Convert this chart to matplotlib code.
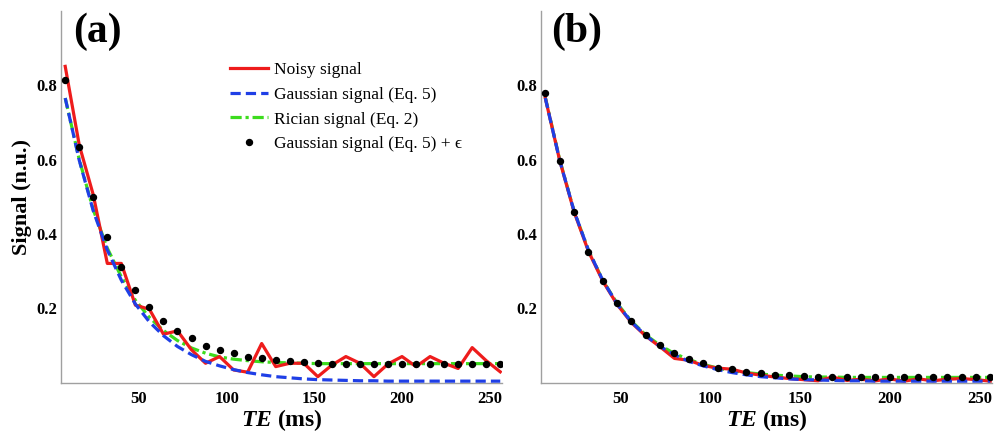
"""
plot.py

Noisy vs Gaussian vs Rician decay signal, two panels.
"""
import matplotlib
matplotlib.use("Agg")
import matplotlib.pyplot as plt
import numpy as np

# echo times (ms)
te = np.arange(8, 257, 8)

# panel (a): high noise
noisy_a = [0.850, 0.639, 0.505, 0.321, 0.321, 0.209, 0.198, 0.131, 0.140, 0.089,
           0.053, 0.071, 0.035, 0.029, 0.106, 0.044, 0.053, 0.053, 0.017, 0.048,
           0.071, 0.053, 0.017, 0.051, 0.071, 0.044, 0.071, 0.053, 0.039, 0.095,
           0.060, 0.030]
gauss_a = [0.765, 0.598, 0.462, 0.357, 0.276, 0.212, 0.164, 0.127, 0.098, 0.076,
           0.058, 0.046, 0.036, 0.028, 0.022, 0.017, 0.014, 0.011, 0.009, 0.008,
           0.007, 0.006, 0.006, 0.005, 0.005, 0.005, 0.005, 0.005, 0.005, 0.005,
           0.005, 0.005]
rician_a = [0.765, 0.600, 0.465, 0.362, 0.285, 0.222, 0.176, 0.141, 0.114, 0.094,
            0.080, 0.070, 0.064, 0.060, 0.057, 0.055, 0.054, 0.053, 0.052, 0.052,
            0.052, 0.052, 0.052, 0.052, 0.052, 0.052, 0.052, 0.052, 0.052, 0.052,
            0.052, 0.052]
dots_a = [0.813, 0.634, 0.498, 0.393, 0.311, 0.250, 0.203, 0.166, 0.140, 0.120,
          0.100, 0.089, 0.080, 0.071, 0.066, 0.062, 0.059, 0.057, 0.053, 0.051,
          0.051, 0.051, 0.051, 0.051, 0.051, 0.051, 0.051, 0.051, 0.051, 0.051,
          0.051, 0.051]

# panel (b): low noise
noisy_b = [0.765, 0.598, 0.460, 0.354, 0.274, 0.211, 0.162, 0.126, 0.097, 0.066,
           0.061, 0.047, 0.040, 0.037, 0.027, 0.021, 0.016, 0.012, 0.009, 0.006,
           0.016, 0.007, 0.010, 0.006, 0.011, 0.005, 0.011, 0.006, 0.010, 0.012,
           0.009, 0.005]
gauss_b = gauss_a
rician_b = [0.767, 0.600, 0.462, 0.357, 0.276, 0.214, 0.166, 0.129, 0.101, 0.079,
            0.063, 0.050, 0.040, 0.033, 0.028, 0.024, 0.021, 0.019, 0.017, 0.016,
            0.016, 0.015, 0.015, 0.015, 0.015, 0.015, 0.015, 0.015, 0.015, 0.015,
            0.015, 0.015]
dots_b = [0.778, 0.596, 0.458, 0.352, 0.274, 0.214, 0.167, 0.129, 0.102, 0.081,
          0.065, 0.055, 0.041, 0.037, 0.030, 0.028, 0.021, 0.021, 0.019, 0.017,
          0.015, 0.015, 0.015, 0.015, 0.015, 0.015, 0.015, 0.015, 0.015, 0.015,
          0.015, 0.015]

xticks = [50, 100, 150, 200, 250]
yticks = [0.2, 0.4, 0.6, 0.8]

plt.rcParams['font.family'] = ['Liberation Serif', 'DejaVu Serif']
plt.rcParams['mathtext.fontset'] = 'custom'
plt.rcParams['mathtext.it'] = 'Liberation Serif:italic:bold'
plt.rcParams['mathtext.rm'] = 'Liberation Serif:bold'

W, H = 998, 437
fig = plt.figure(figsize=(W / 100, H / 100), dpi=100)

RED = '#ee1c1c'
BLUE = '#1f3fe6'
GREEN = '#3ddc1e'


def make_axes(left_px, right_px, noisy, gauss, rician, dots, ylabel=False):
    bottom_px, top_px = 383, 10.5
    ax = fig.add_axes([left_px / W, (H - bottom_px) / H,
                       (right_px - left_px) / W, (bottom_px - top_px) / H])
    ax.plot(te, noisy, color=RED, lw=2.3, label='Noisy signal', zorder=2.5)
    ax.plot(te, gauss, color=BLUE, lw=2.3, ls=(0, (3.2, 1.6)),
            label='Gaussian signal (Eq. 5)', zorder=3)
    ax.plot(te, rician, color=GREEN, lw=2.3, ls=(0, (3.5, 1.2, 1.0, 1.2)),
            label='Rician signal (Eq. 2)', zorder=2)
    ax.plot(te, dots, 'o', color='black', ms=4.3, ls='none',
            label='Gaussian signal (Eq. 5) + \u03f5', zorder=4)
    ax.set_xlim(5.6, 257)
    ax.set_ylim(0, 1.0)
    ax.set_xticks(xticks)
    ax.set_yticks(yticks)
    ax.set_yticklabels([f'{v:.1f}' for v in yticks])
    ax.tick_params(axis='y', length=0, labelsize=12, pad=3)
    ax.tick_params(axis='x', length=0, labelsize=12, pad=6)
    for lab in ax.get_xticklabels() + ax.get_yticklabels():
        lab.set_fontweight('bold')
    for s in ['top', 'right']:
        ax.spines[s].set_visible(False)
    for s in ['left', 'bottom']:
        ax.spines[s].set_color('#a0a0a0')
        ax.spines[s].set_linewidth(1.0)
    ax.set_xlabel(r'$TE$ (ms)', fontsize=17, fontweight='bold', labelpad=0)
    if ylabel:
        ax.set_ylabel('Signal (n.u.)', fontsize=16, fontweight='bold', labelpad=3)
    return ax


ax_a = make_axes(61, 502, noisy_a, gauss_a, rician_a, dots_a, ylabel=True)
ax_b = make_axes(541, 992, noisy_b, gauss_b, rician_b, dots_b)

ax_a.legend(loc='upper left', bbox_to_anchor=(221 / W, 1 - 53 / H),
            bbox_transform=fig.transFigure, frameon=False, fontsize=12.5,
            handlelength=2.2, handletextpad=0.35, labelspacing=0.5,
            borderpad=0, numpoints=1)

fig.text(73 / W, 1 - 13 / H, '(a)', fontsize=30, fontweight='bold', va='top')
fig.text(551 / W, 1 - 13 / H, '(b)', fontsize=30, fontweight='bold', va='top')

plt.savefig('out.png', dpi=100)
